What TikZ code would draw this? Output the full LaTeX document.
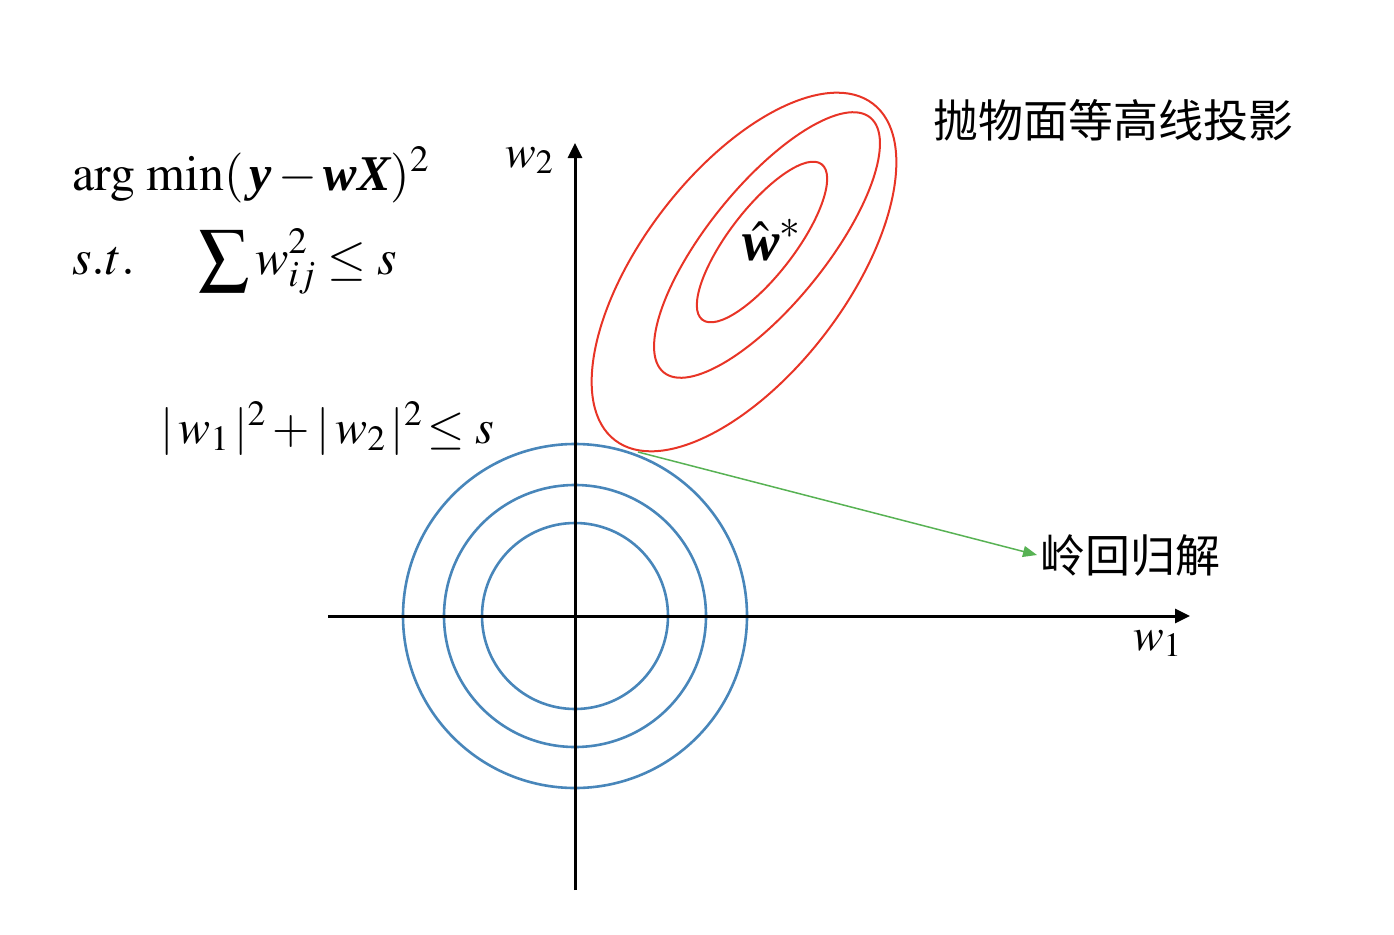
\documentclass[tikz,border=0pt]{standalone}
\usepackage{amsmath}
\usepackage{mathptmx}
\usepackage[no-math]{fontspec}
\setmainfont{Liberation Serif}
\newfontfamily\cjk{Noto Sans CJK SC}
\usetikzlibrary{arrows.meta}
\definecolor{contourred}{RGB}{232,52,38}
\definecolor{ballblue}{RGB}{72,134,186}
\definecolor{solgreen}{RGB}{88,178,84}
\newcommand{\bvec}[1]{\mbox{\bfseries\itshape #1}}
\tikzset{
  axis/.style={line width=3pt, -{Triangle[length=15pt,width=14pt]}},
  ball/.style={ballblue, line width=2.6pt},
  contour/.style={contourred, line width=2pt},
  formula/.style={inner sep=0pt, font=\fontsize{50}{56}\selectfont},
  axlabel/.style={inner sep=0pt, font=\fontsize{46}{52}\selectfont},
  cjklabel/.style={inner sep=0pt, font=\fontsize{45}{50}\selectfont\cjk},
}
\begin{document}
\begin{tikzpicture}[x=1pt, y=-1pt]
\useasboundingbox (0,0) rectangle (1394,934);
\coordinate (o) at (575,616);
\coordinate (xl) at (328,616);
\coordinate (xr) at (1190,616);
\coordinate (yb) at (575,890);
\coordinate (yt) at (575,143);
\coordinate (touch) at (638,452);

% contours of the loss
\draw[contour, rotate around={52.5:(762,242)}] (762,242) ellipse[x radius=98, y radius=33];
\draw[contour, rotate around={51:(767,245)}] (767,245) ellipse[x radius=164, y radius=59];
\draw[contour, rotate around={52.5:(744,272)}] (744,272) ellipse[x radius=212, y radius=102];

% constraint region
\foreach \r in {93,131,172}
  \draw[ball] (o) circle[radius=\r];

\draw[axis] (xl) -- (xr);
\draw[axis] (yb) -- (yt);

\node[axlabel, anchor=base west] (wone) at (1133,650) {$w_1$};
\node[axlabel, anchor=base west] (wtwo) at (505,167) {$w_2$};
\node[formula, anchor=base west, font=\fontsize{56}{62}\selectfont] (what) at (742,260) {$\hat{\bvec{w}}^{*}$};

\node[formula, anchor=base west] (obj) at (72,190) {$\arg\,\min(\,\bvec{y}-\bvec{w}\bvec{X})^2$};
\node[formula, anchor=base west] (st) at (72,274) {$s.t.$};
\node[formula, anchor=base west] (budget) at (198,274) {$\displaystyle\sum w_{ij}^2\le s$};
\node[formula, anchor=base west, font=\fontsize{48}{54}\selectfont] (constr) at (160,443) {$|\,w_1\,|^2+|\,w_2\,|^2\!\le s$};

\node[cjklabel, anchor=west] (para) at (933,120) {抛物面等高线投影};
\node[cjklabel, anchor=west, inner sep=3pt] (ridge) at (1037,555) {岭回归解};
\draw[solgreen, line width=1.5pt, -{Triangle[length=14pt,width=11pt]}] (touch) -- (ridge.west);
\end{tikzpicture}
\end{document}
